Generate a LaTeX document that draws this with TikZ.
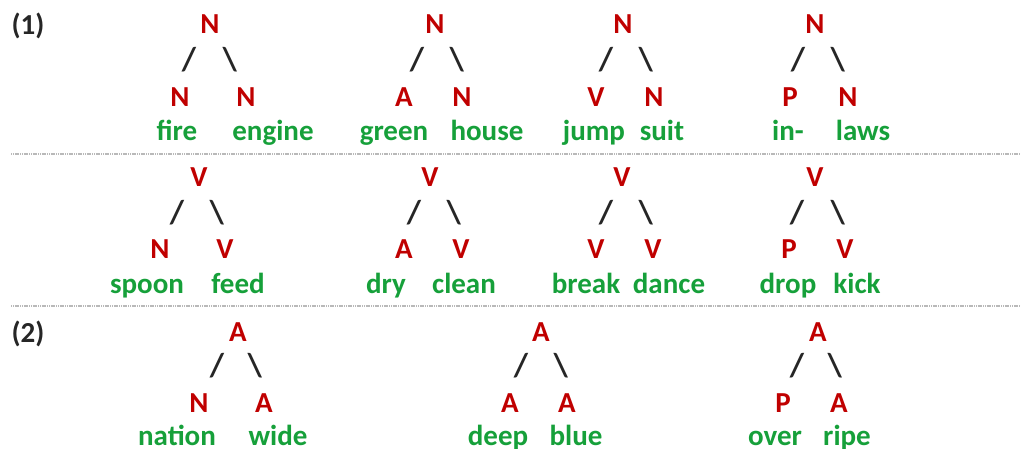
\documentclass[tikz,border=0pt]{standalone}
\usepackage{fontspec}
\setmainfont{Carlito}
\definecolor{catred}{HTML}{C00000}
\definecolor{wordgreen}{HTML}{16A03A}
\definecolor{slashgray}{HTML}{262626}
\begin{document}
\begin{tikzpicture}[x=1pt,y=-1pt,
  every node/.style={inner sep=0pt,outer sep=0pt,font=\fontsize{29}{32}\selectfont\bfseries},
  cat/.style={text=catred,anchor=base},
  word/.style={text=wordgreen,anchor=base},
  slash/.style={text=slashgray,anchor=center,font=\fontsize{33}{36}\selectfont\bfseries},
  numlabel/.style={text=slashgray,anchor=base,font=\fontsize{29}{32}\selectfont\bfseries},
  sep/.style={draw=gray!55,line width=1.6pt,dash pattern=on 1.2pt off 0.6pt}]
\useasboundingbox (0,0) rectangle (1021,448);

\node[numlabel] (l1) at (28,34) {(1)};
\node[numlabel] (l2) at (28,342) {(2)};

\coordinate (s1a) at (11,154);
\coordinate (s1b) at (1021,154);
\coordinate (s2a) at (11,306);
\coordinate (s2b) at (1021,306);
\draw[sep] (s1a) -- (s1b);
\draw[sep] (s2a) -- (s2b);

% Row 1
\node[cat] (r1t1) at (210,33) {N};
\node[slash] (r1t1l) at (189,60) {/};
\node[slash] (r1t1r) at (230,60) {\textbackslash};
\node[cat] (r1t1a) at (180,106) {N};
\node[cat] (r1t1b) at (246,106) {N};
\node[word] (r1t1w) at (177,140) {fire};
\node[word] (r1t1v) at (273,140) {engine};

\node[cat] (r1t2) at (435,33) {N};
\node[slash] (r1t2l) at (417,60) {/};
\node[slash] (r1t2r) at (457,60) {\textbackslash};
\node[cat] (r1t2a) at (404,106) {A};
\node[cat] (r1t2b) at (462,106) {N};
\node[word] (r1t2w) at (394,140) {green};
\node[word] (r1t2v) at (487,140) {house};

\node[cat] (r1t3) at (623,33) {N};
\node[slash] (r1t3l) at (606,60) {/};
\node[slash] (r1t3r) at (646,60) {\textbackslash};
\node[cat] (r1t3a) at (596,106) {V};
\node[cat] (r1t3b) at (654,106) {N};
\node[word] (r1t3w) at (594,140) {jump};
\node[word] (r1t3v) at (662,140) {suit};

\node[cat] (r1t4) at (815,33) {N};
\node[slash] (r1t4l) at (798,60) {/};
\node[slash] (r1t4r) at (838,60) {\textbackslash};
\node[cat] (r1t4a) at (790,106) {P};
\node[cat] (r1t4b) at (848,106) {N};
\node[word] (r1t4w) at (788,140) {in-};
\node[word] (r1t4v) at (863,140) {laws};

% Row 2
\node[cat] (r2t1) at (199,186) {V};
\node[slash] (r2t1l) at (177,213) {/};
\node[slash] (r2t1r) at (217,213) {\textbackslash};
\node[cat] (r2t1a) at (160,258) {N};
\node[cat] (r2t1b) at (225,258) {V};
\node[word] (r2t1w) at (147,293) {spoon};
\node[word] (r2t1v) at (238,293) {feed};

\node[cat] (r2t2) at (430,186) {V};
\node[slash] (r2t2l) at (414,213) {/};
\node[slash] (r2t2r) at (454,213) {\textbackslash};
\node[cat] (r2t2a) at (404,258) {A};
\node[cat] (r2t2b) at (461,258) {V};
\node[word] (r2t2w) at (386,293) {dry};
\node[word] (r2t2v) at (464,293) {clean};

\node[cat] (r2t3) at (622,186) {V};
\node[slash] (r2t3l) at (606,213) {/};
\node[slash] (r2t3r) at (646,213) {\textbackslash};
\node[cat] (r2t3a) at (596,258) {V};
\node[cat] (r2t3b) at (653,258) {V};
\node[word] (r2t3w) at (586,293) {break};
\node[word] (r2t3v) at (669,293) {dance};

\node[cat] (r2t4) at (815,186) {V};
\node[slash] (r2t4l) at (797,213) {/};
\node[slash] (r2t4r) at (838,213) {\textbackslash};
\node[cat] (r2t4a) at (789,258) {P};
\node[cat] (r2t4b) at (845,258) {V};
\node[word] (r2t4w) at (788,293) {drop};
\node[word] (r2t4v) at (857,293) {kick};

% Row 3
\node[cat] (r3t1) at (238,341) {A};
\node[slash] (r3t1l) at (217,366) {/};
\node[slash] (r3t1r) at (255,366) {\textbackslash};
\node[cat] (r3t1a) at (199,412) {N};
\node[cat] (r3t1b) at (264,412) {A};
\node[word] (r3t1w) at (177,445) {nation};
\node[word] (r3t1v) at (278,445) {wide};

\node[cat] (r3t2) at (541,341) {A};
\node[slash] (r3t2l) at (521,366) {/};
\node[slash] (r3t2r) at (561,366) {\textbackslash};
\node[cat] (r3t2a) at (510,412) {A};
\node[cat] (r3t2b) at (567,412) {A};
\node[word] (r3t2w) at (498,445) {deep};
\node[word] (r3t2v) at (576,445) {blue};

\node[cat] (r3t3) at (818,341) {A};
\node[slash] (r3t3l) at (797,366) {/};
\node[slash] (r3t3r) at (835,366) {\textbackslash};
\node[cat] (r3t3a) at (783,412) {P};
\node[cat] (r3t3b) at (839,412) {A};
\node[word] (r3t3w) at (775,445) {over};
\node[word] (r3t3v) at (847,445) {ripe};
\end{tikzpicture}
\end{document}
